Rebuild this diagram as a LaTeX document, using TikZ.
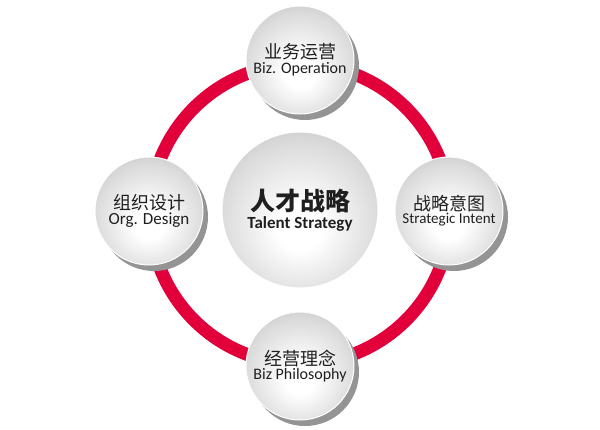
\documentclass[tikz,border=0pt]{standalone}
\usepackage{fontspec}
\setmainfont{Carlito}
\newfontfamily\cjk{Noto Sans CJK SC}
\usepackage{tikz}
\usetikzlibrary{shadows,positioning}
\definecolor{ringred}{HTML}{E2003A}
\pgfdeclareradialshading{ballshade}{\pgfpoint{0bp}{-7bp}}{color(0bp)=(white); color(7bp)=(white); color(25bp)=(black!14); color(38bp)=(black!28); color(50bp)=(black!33)}
\newcommand{\duo}[2]{{\cjk\fontsize{18}{20}\selectfont #1}\\[1pt]{\fontsize{16}{18}\selectfont #2}}

\begin{document}
\begin{tikzpicture}[x=1pt, y=-1pt,
  ball/.style={circle, shading=ballshade, draw=white, line width=1pt, minimum size=108pt, inner sep=0pt, align=center, text=black!88},
  sball/.style={ball, drop shadow={shadow xshift=5pt, shadow yshift=-6pt, fill=black!42, opacity=1}},
  ring/.style={circle, draw=ringred, line width=13pt, minimum size=300pt, inner sep=0pt}]
\useasboundingbox (0,0) rectangle (600,429);
\node[ring] (loop) at (300,214) {};
\node[sball] (ops) at (300,60) {\duo{业务运营}{Biz. Operation}};
\node[sball] (intent) at (449,211) {\duo{战略意图}{\fontsize{15}{18}\selectfont Strategic Intent}};
\node[sball] (philo) at (300,366) {\duo{经营理念}{Biz Philosophy}};
\node[sball] (design) at (149,211) {\duo{组织设计}{\fontsize{17}{18}\selectfont Org. Design}};
\node[ball, minimum size=156pt] (talent) at (300,210)
  {{\cjk\bfseries\fontsize{25}{28}\selectfont 人才战略}\\[3pt]{\bfseries\fontsize{17}{19}\selectfont Talent Strategy}};
\end{tikzpicture}
\end{document}
